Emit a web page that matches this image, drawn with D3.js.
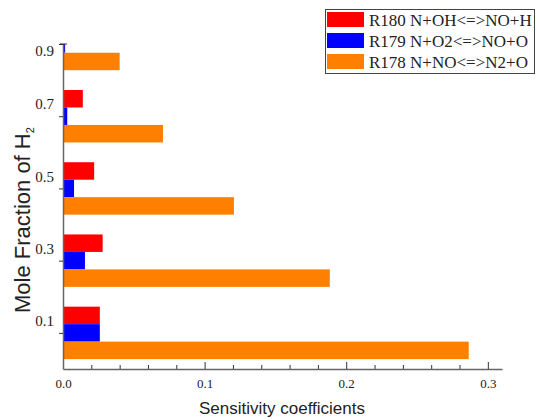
<!DOCTYPE html>
<html>
<head>
<meta charset="utf-8">
<script src="https://cdn.jsdelivr.net/npm/d3@7"></script>
<style>
  body { margin: 0; background: #fff; }
  svg { display: block; }
</style>
</head>
<body>
<div id="chart"></div>
<script>
"use strict";

// Mole fraction of H2 (category positions on the y axis)
var fractions = [0.1, 0.3, 0.5, 0.7, 0.9];
var fractionLabels = ["0.1", "0.3", "0.5", "0.7", "0.9"];

// Sensitivity coefficients, one array per reaction
var r180 = [0.026, 0.028, 0.022, 0.014, 0.012];
var r179 = [0.026, 0.0155, 0.0078, 0.003, 0.0015];
var r178 = [0.2865, 0.1884, 0.1207, 0.0706, 0.040];

var seriesNames = ["R180 N+OH<=>NO+H", "R179 N+O2<=>NO+O", "R178 N+NO<=>N2+O"];
var seriesColors = ["#ff0000", "#0000ff", "#ff8000"];

var xTicks = [0, 0.1, 0.2, 0.3];
var xTickLabels = ["0.0", "0.1", "0.2", "0.3"];

var width = 537, height = 420;

var svg = d3.select("#chart").append("svg")
	.attr("width", width)
	.attr("height", height);

var x = d3.scaleLinear().domain([0, 0.31]).range([63, 502]);
var y = d3.scaleLinear().domain([0, 0.9]).range([369, 44]);

// thickness of one bar, in data units of the y scale
var barH = y(0) - y(0.0484);

svg.append("clipPath").attr("id", "plotclip")
	.append("rect")
	.attr("x", x(0)).attr("y", y(0.9))
	.attr("width", x(0.31) - x(0)).attr("height", y(0) - y(0.9));

var allSeries = [r180, r179, r178];
var bars = svg.append("g").attr("clip-path", "url(#plotclip)");

allSeries.forEach(function(values, i) {
	bars.selectAll(".s" + i)
		.data(values)
		.enter().append("rect")
		.attr("class", "s" + i)
		.attr("x", x(0))
		.attr("y", function(d, j) { return y(fractions[j]) + (i - 1.5) * barH; })
		.attr("width", function(d) { return x(d) - x(0); })
		.attr("height", barH)
		.attr("fill", seriesColors[i]);
});

// x axis, ticks pointing into the plot
var minor = d3.range(0.02, 0.31, 0.02).filter(function(v) {
	return Math.abs(v * 10 - Math.round(v * 10)) > 1e-6;
});

var xMinor = svg.append("g")
	.attr("transform", "translate(0," + y(0) + ")")
	.call(d3.axisBottom(x).tickValues(minor).tickSize(-4).tickFormat(""));
xMinor.select(".domain").remove();

var xAxis = svg.append("g")
	.attr("transform", "translate(0," + y(0) + ")")
	.call(d3.axisBottom(x).tickValues(xTicks).tickSizeInner(-7).tickSizeOuter(0)
		.tickFormat(function(d, i) { return xTickLabels[i]; }));

xAxis.selectAll("text")
	.attr("y", 10)
	.attr("dy", "0.71em")
	.style("font-family", "'Liberation Serif', 'Times New Roman', serif")
	.style("font-size", "13px")
	.attr("fill", "#222");

// y axis
var yAxis = svg.append("g")
	.attr("transform", "translate(" + x(0) + ",0)")
	.call(d3.axisLeft(y).tickValues(fractions).tickSizeInner(4).tickSizeOuter(0).tickFormat(""));

svg.append("line")
	.attr("x1", x(0) - 3).attr("x2", x(0) + 4)
	.attr("y1", y(0.9)).attr("y2", y(0.9))
	.attr("stroke", "#333");

svg.selectAll(".ylab")
	.data(fractions)
	.enter().append("text")
	.attr("class", "ylab")
	.attr("x", 54)
	.attr("y", function(d) { return Math.max(y(d) - 12, y(0.9) + 7); })
	.attr("dy", "0.35em")
	.attr("text-anchor", "end")
	.style("font-family", "'Liberation Serif', 'Times New Roman', serif")
	.style("font-size", "15px")
	.attr("fill", "#222")
	.text(function(d, i) { return fractionLabels[i]; });

svg.selectAll(".domain").attr("stroke", "#666").attr("stroke-width", 1.5);
svg.selectAll(".tick line").attr("stroke", "#333");

// axis titles
svg.append("text")
	.attr("x", 282).attr("y", 414)
	.attr("text-anchor", "middle")
	.style("font-family", "'Liberation Sans', Arial, sans-serif")
	.style("font-size", "17px")
	.attr("fill", "#222")
	.text("Sensitivity coefficients");

var ytitle = svg.append("text")
	.attr("transform", "translate(30,313) rotate(-90)")
	.style("font-family", "'Liberation Sans', Arial, sans-serif")
	.style("font-size", "22px")
	.attr("fill", "#222");
ytitle.append("tspan").text("Mole Fraction of H");
ytitle.append("tspan").attr("dy", 4).style("font-size", "11px").text("2");

// legend
var legend = svg.append("g").attr("transform", "translate(325,9)");
legend.append("rect")
	.attr("x", 0.5).attr("y", 0.5)
	.attr("width", 209).attr("height", 64)
	.attr("fill", "#fff")
	.attr("stroke", "#444");

seriesNames.forEach(function(name, i) {
	var row = legend.append("g").attr("transform", "translate(0," + (i * 21) + ")");
	row.append("rect")
		.attr("x", 2).attr("y", 3)
		.attr("width", 37).attr("height", 15)
		.attr("fill", seriesColors[i]);
	row.append("text")
		.attr("x", 44).attr("y", 17)
		.style("font-family", "'Liberation Serif', 'Times New Roman', serif")
		.style("font-size", "17px")
		.attr("fill", "#222")
		.text(name);
});
</script>
</body>
</html>
